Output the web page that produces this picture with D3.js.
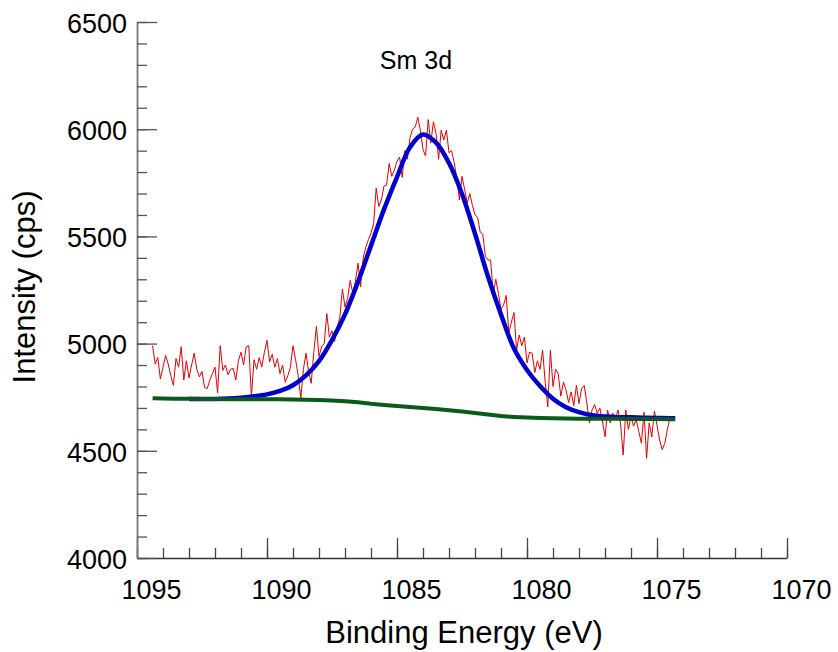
<!DOCTYPE html>
<meta charset="utf-8" />
<script src="https://d3js.org/d3.v7.min.js"></script>
<style>
  body { margin: 0; background: #fff; }
  svg { display: block; }
  text { font-family: Arial, "Liberation Sans", sans-serif; fill: #000; }
</style>
<body>
<div id="chart"></div>
<script>
  // tick labels
  const xTicks = [1095, 1090, 1085, 1080, 1075, 1070];
  const yTicks = [4000, 4500, 5000, 5500, 6000, 6500];

  // raw spectrum, 0.1 eV steps starting at 1094.4 eV (one row per eV)
  const rawStart = 1094.4;
  const rawStep = 0.1;
  const rawCounts = [
    4990, 4905, 4935, 4835, 4890,
    4945, 4905, 4850, 4805, 4930, 4890, 4985, 4830, 4920, 4840,
    4900, 4955, 4880, 4845, 4870, 4795, 4790, 4830, 4860, 4890,
    4770, 4990, 4875, 4900, 4855, 4880, 4885, 4830, 4920, 4960,
    4900, 4985, 4990, 4750, 4925, 4880, 4935, 4890, 4960, 5015,
    4915, 4950, 4890, 4930, 4860, 4900, 4820, 4850, 4890, 4990,
    4925, 4850, 4745, 4880, 4955, 4870, 4815, 4960, 5080, 4940,
    4985, 5000, 5140, 5030, 5060, 5010, 5080, 5120, 5255, 5170,
    5210, 5295, 5235, 5290, 5375, 5265, 5400, 5450, 5485, 5515,
    5560, 5725, 5640, 5670, 5735, 5740, 5840, 5780, 5810, 5850,
    5870, 5775, 5900, 5860, 5960, 6000, 6010, 6055, 5995, 5905,
    5875, 6045, 5935, 6035, 5980, 5860, 5995, 5950, 5995, 5890,
    5900, 5845, 5770, 5670, 5780, 5720, 5655, 5700, 5645, 5600,
    5590, 5520, 5510, 5405, 5390, 5390, 5235, 5300, 5235, 5160,
    5180, 5225, 5050, 5100, 5145, 4970, 5040, 4990, 5030, 4910,
    4960, 4955, 4865, 4920, 4880, 4970, 4820, 4705, 4970, 4800,
    4880, 4860, 4755, 4820, 4785, 4725, 4775, 4710, 4805, 4720,
    4790, 4805, 4725, 4630, 4690, 4715, 4675, 4700, 4640, 4565,
    4690, 4630, 4675, 4650, 4690, 4625, 4480, 4690, 4600, 4660,
    4615, 4645, 4590, 4535, 4680, 4465, 4630, 4565, 4685, 4620,
    4550, 4505, 4535, 4600, 4655, 4650
  ];

  // fitted envelope and background
  const envEnergy = [
    1094.4, 1094, 1093.5, 1093, 1092.5, 1092, 1091.5, 1091, 1090.5, 1090,
    1089.5, 1089, 1088.5, 1088, 1087.5, 1087, 1086.5, 1086, 1085.5, 1085,
    1084.5, 1084, 1083.5, 1083, 1082.5, 1082, 1081.5, 1081, 1080.5, 1080,
    1079.5, 1079, 1078.5, 1078, 1077.5, 1077, 1076.5, 1076, 1075.5, 1075,
    1074.5, 1074.3
  ];
  const fitCounts = [
    null, null, null, 4742, 4742, 4742, 4744, 4748, 4754, 4763,
    4779, 4806, 4852, 4918, 5016, 5136, 5288, 5457, 5626, 5777,
    5916, 5975, 5937, 5842, 5698, 5513, 5313, 5136, 4977, 4877,
    4802, 4743, 4703, 4680, 4666, 4660, 4657, 4656, 4654, 4653,
    4652, 4652
  ];
  const backgroundCounts = [
    4745, 4744, 4743, 4743, 4742, 4742, 4741, 4741, 4740, 4740,
    4740, 4739, 4738, 4737, 4735, 4731, 4726, 4719, 4714, 4709,
    4704, 4700, 4695, 4689, 4683, 4676, 4669, 4662, 4658, 4655,
    4653, 4652, 4651, 4650, 4650, 4649, 4649, 4648, 4648, 4648,
    4647, 4647
  ];

  const width = 838;
  const height = 652;

  const svg = d3
    .select("#chart")
    .append("svg")
    .attr("width", width)
    .attr("height", height);

  const x = d3.scaleLinear().domain([1095, 1070]).range([137, 787]);
  const y = d3.scaleLinear().domain([4000, 6500]).range([558, 22]);

  const raw = rawCounts.map((c, i) => [rawStart - i * rawStep, c]);
  const fit = envEnergy.map((e, i) => [e, fitCounts[i]]);
  const background = envEnergy.map((e, i) => [e, backgroundCounts[i]]);

  // x axis: minor ticks every 1 eV, major every 5, pointing up
  svg
    .append("g")
    .attr("transform", "translate(0,558)")
    .call(
      d3.axisBottom(x)
        .tickValues(d3.range(1095, 1069, -1))
        .tickSize(-10)
        .tickSizeOuter(0)
        .tickFormat("")
    )
    .call((g) => g.selectAll("line").attr("stroke", "#444").attr("stroke-width", 1.3))
    .call((g) => g.select(".domain").attr("stroke", "#333").attr("stroke-width", 1.6));

  const xMajor = svg
    .append("g")
    .attr("transform", "translate(0,558)")
    .call(
      d3.axisBottom(x)
        .tickValues(xTicks)
        .tickSize(-20)
        .tickSizeOuter(0)
        .tickPadding(22)
        .tickFormat(d3.format("d"))
    );
  xMajor.select(".domain").remove();
  xMajor.selectAll("line").attr("stroke", "#444").attr("stroke-width", 1.3);
  xMajor
    .selectAll("text")
    .attr("dx", 14)
    .attr("font-size", 27)
    .attr("font-family", "Arial, 'Liberation Sans', sans-serif")
    .attr("fill", "#000");

  // y axis: minor ticks every 100, major every 500, pointing right
  svg
    .append("g")
    .attr("transform", "translate(137,0)")
    .call(
      d3.axisLeft(y)
        .tickValues(d3.range(4000, 6501, 100))
        .tickSize(-10)
        .tickSizeOuter(0)
        .tickFormat("")
    )
    .call((g) => g.selectAll("line").attr("stroke", "#555").attr("stroke-width", 1.3))
    .call((g) => g.select(".domain").attr("stroke", "#777").attr("stroke-width", 1.8));

  const yMajor = svg
    .append("g")
    .attr("transform", "translate(137,0)")
    .call(
      d3.axisLeft(y)
        .tickValues(yTicks)
        .tickSize(-20)
        .tickSizeOuter(0)
        .tickPadding(10)
        .tickFormat(d3.format("d"))
    );
  yMajor.select(".domain").remove();
  yMajor.selectAll("line").attr("stroke", "#555").attr("stroke-width", 1.3);
  yMajor
    .selectAll("text")
    .attr("dy", "0.38em")
    .attr("font-size", 27)
    .attr("font-family", "Arial, 'Liberation Sans', sans-serif")
    .attr("fill", "#000");

  // data lines
  svg
    .append("path")
    .datum(raw)
    .attr("fill", "none")
    .attr("stroke", "#e50000")
    .attr("stroke-width", 1)
    .attr("d", d3.line().x((d) => x(d[0])).y((d) => y(d[1])));

  svg
    .append("path")
    .datum(fit)
    .attr("fill", "none")
    .attr("stroke", "#0000cc")
    .attr("stroke-width", 4.5)
    .attr(
      "d",
      d3.line()
        .defined((d) => d[1] !== null)
        .curve(d3.curveCatmullRom)
        .x((d) => x(d[0]))
        .y((d) => y(d[1]))
    );

  svg
    .append("path")
    .datum(background)
    .attr("fill", "none")
    .attr("stroke", "#0a5a1e")
    .attr("stroke-width", 4)
    .attr("d", d3.line().x((d) => x(d[0])).y((d) => y(d[1])));

  // labels
  svg
    .append("text")
    .attr("x", 416)
    .attr("y", 69)
    .attr("text-anchor", "middle")
    .attr("font-size", 25)
    .text("Sm 3d");

  svg
    .append("text")
    .attr("x", 464)
    .attr("y", 643)
    .attr("text-anchor", "middle")
    .attr("font-size", 31)
    .text("Binding Energy (eV)");

  svg
    .append("text")
    .attr("transform", "translate(35,287) rotate(-90)")
    .attr("text-anchor", "middle")
    .attr("font-size", 31)
    .text("Intensity (cps)");
</script>
</body>
